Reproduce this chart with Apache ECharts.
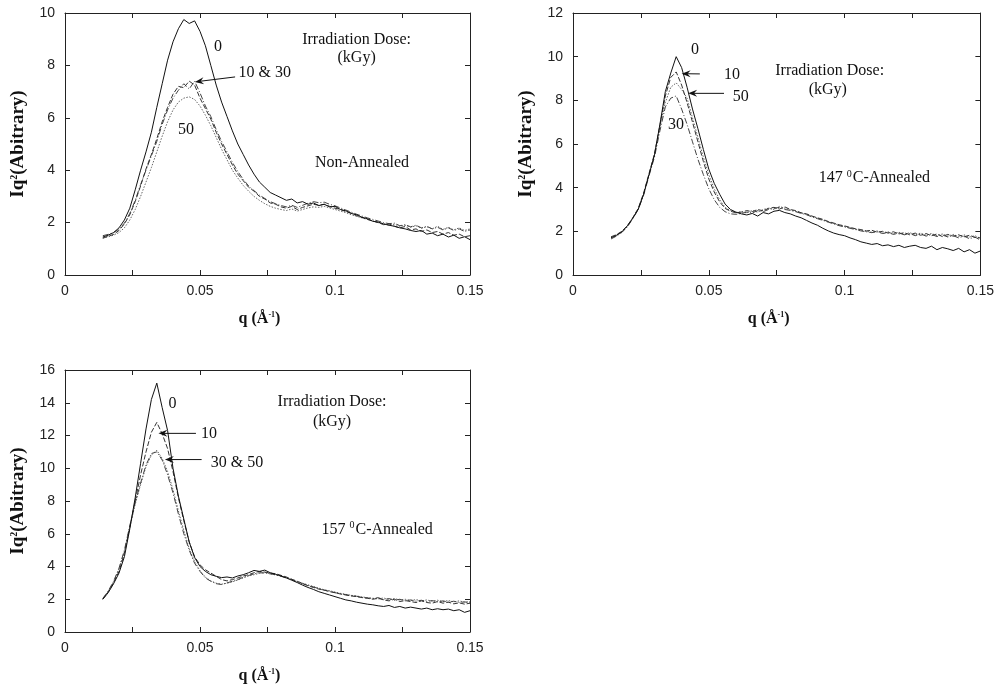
<!DOCTYPE html>
<html><head><meta charset="utf-8">
<script src="https://cdn.jsdelivr.net/npm/echarts@6/dist/echarts.min.js"></script>
<style>html,body{margin:0;padding:0;background:#fff}#c{width:997px;height:691px}</style>
</head><body><div id="c"></div>
<script>
// ---------- data ----------
const q = [0.014,0.016,0.018,0.020,0.022,0.024,0.026,0.028,0.030,0.032,
 0.034,0.036,0.038,0.040,0.042,0.044,0.046,0.048,0.050,0.052,
 0.054,0.056,0.058,0.060,0.062,0.064,0.066,0.068,0.070,0.072,
 0.074,0.076,0.078,0.080,0.082,0.084,0.086,0.088,0.090,0.092,
 0.094,0.096,0.098,0.100,0.102,0.104,0.106,0.108,0.110,0.112,
 0.114,0.116,0.118,0.120,0.122,0.124,0.126,0.128,0.130,0.132,
 0.134,0.136,0.138,0.140,0.142,0.144,0.146,0.148,0.150];

const doses = ['0','10','30','50'];
const xTickLabels = ['0','0.05','0.1','0.15'];
const yMaxes = [10, 12, 16];

// Non-Annealed
const p1_0 = [1.45,1.52,1.62,1.80,2.10,2.55,3.25,4.00,4.70,5.45,
 6.40,7.30,8.20,8.90,9.40,9.75,9.60,9.70,9.30,8.75,
 8.00,7.25,6.60,6.05,5.50,5.00,4.60,4.20,3.85,3.55,
 3.35,3.15,3.05,2.95,2.85,2.90,2.75,2.80,2.70,2.75,
 2.65,2.70,2.60,2.62,2.50,2.45,2.35,2.30,2.20,2.15,
 2.05,2.02,1.95,1.90,1.86,1.80,1.76,1.70,1.66,1.70,
 1.56,1.60,1.50,1.56,1.45,1.52,1.40,1.46,1.35];
const p1_10 = [1.40,1.48,1.55,1.70,1.95,2.30,2.80,3.40,4.05,4.60,
 5.20,5.85,6.40,6.90,7.20,7.15,7.40,7.25,6.75,6.35,
 5.95,5.45,5.00,4.60,4.20,3.85,3.60,3.35,3.20,3.00,
 2.90,2.75,2.70,2.60,2.55,2.62,2.50,2.58,2.64,2.70,
 2.66,2.70,2.62,2.55,2.50,2.42,2.36,2.26,2.20,2.12,
 2.06,2.00,1.92,1.95,1.86,1.80,1.85,1.72,1.76,1.66,
 1.72,1.62,1.66,1.56,1.62,1.52,1.56,1.46,1.50];
const p1_30 = [1.50,1.55,1.62,1.75,1.98,2.35,2.85,3.45,4.00,4.55,
 5.10,5.75,6.30,6.75,7.05,7.30,7.10,7.40,6.95,6.45,
 6.05,5.55,5.10,4.70,4.30,3.95,3.65,3.40,3.22,3.05,
 2.92,2.80,2.72,2.65,2.60,2.66,2.58,2.66,2.74,2.80,
 2.76,2.78,2.70,2.64,2.56,2.48,2.40,2.32,2.25,2.18,
 2.12,2.06,2.00,1.96,1.98,1.88,1.92,1.84,1.90,1.80,
 1.86,1.76,1.82,1.72,1.80,1.70,1.76,1.66,1.72];
const p1_50 = [1.42,1.46,1.52,1.62,1.80,2.10,2.50,3.00,3.55,4.10,
 4.70,5.30,5.85,6.30,6.60,6.75,6.80,6.70,6.45,6.10,
 5.70,5.25,4.80,4.40,4.00,3.70,3.42,3.20,3.00,2.85,
 2.72,2.62,2.55,2.50,2.46,2.52,2.44,2.50,2.56,2.60,
 2.58,2.62,2.56,2.50,2.44,2.38,2.30,2.24,2.18,2.12,
 2.06,2.00,1.96,1.90,1.94,1.86,1.90,1.82,1.88,1.78,
 1.84,1.76,1.86,1.74,1.82,1.72,1.80,1.70,1.76];

// 147 C-Annealed
const p2_0 = [1.70,1.82,1.98,2.25,2.60,3.00,3.70,4.60,5.50,6.90,
 8.40,9.25,10.0,9.50,8.60,7.60,6.70,5.75,4.85,4.20,
 3.70,3.25,3.00,2.88,2.80,2.75,2.82,2.70,2.86,2.80,
 2.92,2.96,2.86,2.80,2.70,2.62,2.50,2.38,2.28,2.14,
 2.02,1.92,1.85,1.80,1.70,1.62,1.52,1.46,1.40,1.44,
 1.34,1.38,1.30,1.36,1.26,1.32,1.36,1.26,1.22,1.32,
 1.16,1.26,1.20,1.12,1.22,1.06,1.16,1.00,1.10];
const p2_10 = [1.75,1.85,2.00,2.25,2.62,3.05,3.75,4.65,5.55,6.85,
 8.20,9.05,9.30,8.70,7.90,7.00,6.10,5.20,4.40,3.80,
 3.35,3.05,2.92,2.85,2.88,2.95,2.90,3.00,2.94,3.05,
 3.10,3.02,3.12,3.00,2.95,2.85,2.80,2.70,2.62,2.55,
 2.45,2.38,2.30,2.25,2.18,2.12,2.08,2.02,2.05,1.96,
 2.00,1.92,1.98,1.88,1.94,1.84,1.92,1.82,1.90,1.80,
 1.88,1.76,1.86,1.78,1.84,1.74,1.82,1.72,1.70];
const p2_30 = [1.65,1.78,1.95,2.20,2.58,3.00,3.65,4.55,5.40,6.60,
 7.70,8.10,8.20,7.60,6.90,6.10,5.30,4.60,3.95,3.45,
 3.10,2.90,2.80,2.78,2.82,2.88,2.84,2.95,2.90,3.00,
 3.05,3.10,3.00,2.96,2.90,2.82,2.76,2.66,2.58,2.50,
 2.42,2.34,2.26,2.20,2.14,2.08,2.02,1.98,1.94,1.98,
 1.90,1.94,1.86,1.92,1.84,1.90,1.80,1.88,1.78,1.86,
 1.76,1.84,1.74,1.80,1.70,1.78,1.66,1.74,1.60];
const p2_50 = [1.72,1.80,1.96,2.22,2.60,3.02,3.70,4.60,5.50,6.80,
 7.90,8.60,8.80,8.50,8.10,7.20,6.30,5.40,4.60,3.95,
 3.45,3.10,2.95,2.86,2.90,2.84,2.96,2.88,3.00,3.06,
 3.00,3.14,3.06,2.98,2.92,2.84,2.78,2.68,2.60,2.52,
 2.44,2.36,2.28,2.22,2.16,2.10,2.04,2.00,1.96,2.02,
 1.92,1.98,1.88,1.96,1.86,1.94,1.84,1.92,1.82,1.90,
 1.80,1.88,1.78,1.86,1.76,1.84,1.74,1.80,1.68];

// 157 C-Annealed
const p3_0 = [2.00,2.40,2.95,3.60,4.60,6.30,8.20,10.3,12.4,14.2,
 15.2,13.7,12.3,10.0,8.30,6.90,5.50,4.55,4.00,3.70,
 3.50,3.40,3.32,3.36,3.30,3.42,3.50,3.62,3.76,3.70,
 3.78,3.62,3.52,3.42,3.30,3.16,3.02,2.86,2.72,2.60,
 2.46,2.36,2.26,2.16,2.06,1.96,1.90,1.82,1.76,1.70,
 1.66,1.60,1.56,1.62,1.50,1.56,1.46,1.52,1.46,1.40,
 1.46,1.36,1.42,1.36,1.40,1.30,1.36,1.20,1.30];
const p3_10 = [2.00,2.45,3.00,3.70,4.80,6.40,8.00,9.60,11.0,12.2,
 12.8,12.1,11.2,9.80,8.20,6.80,5.50,4.60,4.10,3.80,
 3.60,3.40,3.20,3.12,3.20,3.30,3.42,3.50,3.62,3.70,
 3.66,3.60,3.56,3.46,3.36,3.22,3.10,2.96,2.82,2.72,
 2.62,2.56,2.46,2.40,2.32,2.26,2.20,2.16,2.10,2.06,
 2.00,2.06,1.96,1.90,2.00,1.86,1.92,1.86,1.80,1.90,
 1.80,1.76,1.86,1.76,1.82,1.72,1.78,1.70,1.76];
const p3_30 = [2.05,2.50,3.10,3.90,5.00,6.50,7.90,9.10,10.2,10.9,
 11.0,10.5,9.60,8.50,7.20,6.00,5.00,4.20,3.70,3.30,
 3.10,2.95,2.90,3.00,3.10,3.20,3.35,3.45,3.55,3.62,
 3.60,3.55,3.50,3.40,3.30,3.20,3.05,2.95,2.85,2.75,
 2.65,2.55,2.50,2.40,2.34,2.28,2.22,2.18,2.12,2.08,
 2.04,2.10,1.98,2.04,1.94,2.00,1.90,1.96,1.88,1.94,
 1.86,1.92,1.84,1.90,1.82,1.88,1.80,1.84,1.78];
const p3_50 = [2.02,2.48,3.05,3.85,4.90,6.40,7.80,9.00,10.1,10.8,
 11.1,10.6,9.80,8.70,7.40,6.20,5.10,4.30,3.75,3.35,
 3.12,2.98,2.92,2.98,3.06,3.18,3.30,3.42,3.50,3.58,
 3.64,3.56,3.48,3.42,3.32,3.22,3.08,2.98,2.88,2.78,
 2.68,2.58,2.52,2.44,2.36,2.30,2.24,2.20,2.14,2.10,
 2.06,2.02,2.08,1.98,2.04,1.96,2.00,1.92,1.98,1.90,
 1.96,1.88,1.94,1.86,1.92,1.84,1.90,1.82,1.86];

const panelSeries = [[p1_0,p1_10,p1_30,p1_50],[p2_0,p2_10,p2_30,p2_50],[p3_0,p3_10,p3_30,p3_50]];

// annotations in data coordinates: [panel, q, value, text]
const annTexts = [
 [0, 0.0567, 8.70, '0'],
 [0, 0.108, 8.97, 'Irradiation Dose:'],
 [0, 0.108, 8.28, '(kGy)'],
 [0, 0.074, 7.70, '10 & 30'],
 [0, 0.0448, 5.53, '50'],
 [0, 0.110, 4.27, 'Non-Annealed'],
 [1, 0.0449, 10.3, '0'],
 [1, 0.0585, 9.16, '10'],
 [1, 0.0618, 8.15, '50'],
 [1, 0.0379, 6.87, '30'],
 [1, 0.0945, 9.35, 'Irradiation Dose:'],
 [1, 0.0938, 8.47, '(kGy)'],
 [1, 0.111, 4.44, '147 {s|0}C-Annealed'],
 [2, 0.0398, 13.95, '0'],
 [2, 0.0989, 14.03, 'Irradiation Dose:'],
 [2, 0.0989, 12.84, '(kGy)'],
 [2, 0.0533, 12.09, '10'],
 [2, 0.0637, 10.36, '30 & 50'],
 [2, 0.1156, 6.27, '157 {s|0}C-Annealed']
];
// arrows: [panel, qTail, vTail, qHead, vHead]
const annArrows = [
 [0, 0.063, 7.56, 0.0481, 7.37],
 [1, 0.0467, 9.21, 0.0400, 9.22],
 [1, 0.0556, 8.32, 0.0424, 8.32],
 [2, 0.0485, 12.13, 0.0346, 12.13],
 [2, 0.0506, 10.53, 0.0370, 10.53]
];

// ---------- layout / style ----------
const grids = [
 {left:65, top:13, width:405, height:262},
 {left:573, top:13, width:408, height:262},
 {left:65, top:370, width:405, height:262}
];
const lineStyles = [
 {color:'#111', type:'solid', width:1},
 {color:'#333', type:[5,2], width:1},
 {color:'#444', type:[6,2,1,2], width:1},
 {color:'#666', type:[1.5,1.5], width:1}
];
const axisCol = '#222';
const tickFont = {fontFamily:'Liberation Sans', fontSize:14, color:'#222'};
const serifB = 'Liberation Serif';

const xAxes = [], yAxes = [], series = [];
grids.forEach((g, i) => {
  xAxes.push({
    gridIndex:i, type:'value', min:0, max:0.15, interval:0.05, position:'bottom',
    name:'q ({a|Å}{s|-1})', nameLocation:'middle', nameGap:36,
    nameTextStyle:{fontFamily:serifB, fontWeight:'bold', fontSize:16, color:'#111', padding:[0,16,0,0],
      rich:{a:{fontFamily:serifB, fontWeight:'bold', fontSize:16, color:'#111'},
            s:{fontFamily:serifB, fontWeight:'bold', fontSize:8, color:'#111', verticalAlign:'top'}}},
    axisLine:{show:true, onZero:false, lineStyle:{color:axisCol, width:1}},
    axisTick:{show:true, inside:true, length:5, lineStyle:{color:axisCol}},
    minorTick:{show:true, splitNumber:2, length:5, lineStyle:{color:axisCol}},
    axisLabel:{...tickFont, margin:9, formatter:(v)=>{const k=Math.round(v/0.05); return xTickLabels[k]!==undefined?xTickLabels[k]:'';}},
    splitLine:{show:false}
  });
  yAxes.push({
    gridIndex:i, type:'value', min:0, max:yMaxes[i], interval:2, position:'left',
    name:'Iq{s|2}(Abitrary)', nameLocation:'middle', nameGap:37,
    nameTextStyle:{fontFamily:serifB, fontWeight:'bold', fontSize:19, color:'#111',
      rich:{s:{fontFamily:serifB, fontWeight:'bold', fontSize:10, color:'#111', verticalAlign:'top'}}},
    axisLine:{show:true, onZero:false, lineStyle:{color:axisCol, width:1}},
    axisTick:{show:true, inside:true, length:5, lineStyle:{color:axisCol}},
    axisLabel:{...tickFont, margin:10},
    splitLine:{show:false}
  });
});
grids.forEach((g, i) => {
  xAxes.push({
    gridIndex:i, type:'value', min:0, max:0.15, interval:0.05, position:'top',
    axisLine:{show:true, onZero:false, lineStyle:{color:axisCol, width:1}},
    axisTick:{show:true, inside:true, length:5, lineStyle:{color:axisCol}},
    minorTick:{show:true, splitNumber:2, length:5, lineStyle:{color:axisCol}},
    axisLabel:{show:false}, splitLine:{show:false}
  });
  yAxes.push({
    gridIndex:i, type:'value', min:0, max:yMaxes[i], interval:2, position:'right',
    axisLine:{show:true, onZero:false, lineStyle:{color:axisCol, width:1}},
    axisTick:{show:true, inside:true, length:5, lineStyle:{color:axisCol}},
    axisLabel:{show:false}, splitLine:{show:false}
  });
});
panelSeries.forEach((list, i) => {
  list.forEach((vals, k) => {
    series.push({
      name: doses[k] + ' kGy', type:'line', xAxisIndex:i, yAxisIndex:i,
      data: q.map((x, j) => [x, vals[j]]),
      showSymbol:false, symbol:'none', smooth:false,
      lineStyle: lineStyles[k], z: 4 - k
    });
  });
});

const chart = echarts.init(document.getElementById('c'), null, {renderer:'canvas'});
chart.setOption({
  animation:false, backgroundColor:'#fff',
  grid: grids, xAxis: xAxes, yAxis: yAxes, series: series
});

// annotations through the axes' scales
const graphics = [];
const annFont = {fontFamily:serifB, fontSize:16, fill:'#111'};
annTexts.forEach(([p, x, v, t]) => {
  const pt = chart.convertToPixel({xAxisIndex:p, yAxisIndex:p}, [x, v]);
  graphics.push({type:'text', x:pt[0], y:pt[1], z:50, style:{
    text:t, ...annFont, align:'center', verticalAlign:'middle',
    rich:{s:{fontFamily:serifB, fontSize:10, fill:'#111', verticalAlign:'top', padding:[0,1,8,0]}}
  }});
});
annArrows.forEach(([p, x0, v0, x1, v1]) => {
  const a = chart.convertToPixel({xAxisIndex:p, yAxisIndex:p}, [x0, v0]);
  const b = chart.convertToPixel({xAxisIndex:p, yAxisIndex:p}, [x1, v1]);
  const dx = b[0]-a[0], dy = b[1]-a[1], L = Math.hypot(dx, dy) || 1;
  const ux = dx/L, uy = dy/L, nx = -uy, ny = ux;
  const hl = 9, hw = 3.5;
  graphics.push({type:'line', z:50, shape:{x1:a[0], y1:a[1], x2:b[0]-ux*hl*0.6, y2:b[1]-uy*hl*0.6},
    style:{stroke:'#111', lineWidth:1}});
  graphics.push({type:'polygon', z:51, shape:{points:[
    [b[0], b[1]],
    [b[0]-ux*hl+nx*hw, b[1]-uy*hl+ny*hw],
    [b[0]-ux*hl*0.65, b[1]-uy*hl*0.65],
    [b[0]-ux*hl-nx*hw, b[1]-uy*hl-ny*hw]
  ]}, style:{fill:'#111'}});
});
chart.setOption({graphic: graphics});
</script>
</body></html>
